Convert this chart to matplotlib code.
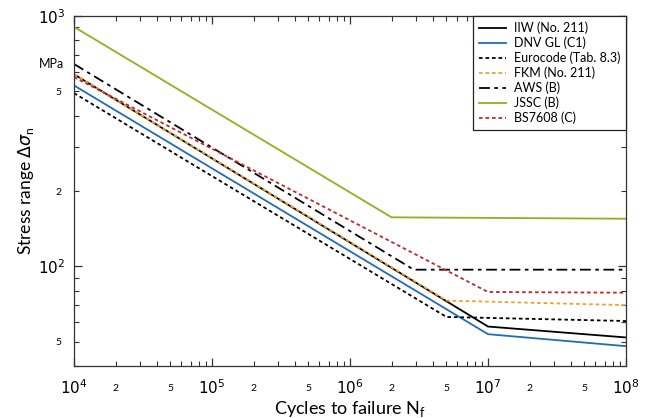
import matplotlib.pyplot as plt
from matplotlib.transforms import blended_transform_factory

plt.rcParams['font.family'] = ['Lato', 'DejaVu Sans']
plt.rcParams['mathtext.fontset'] = 'dejavusans'

# S-N curves: cycles (knee points) and stress range in MPa
iiw_n = [1e4, 1e7, 1e8]
iiw_s = [585, 57.5, 52]
dnv_n = [1e4, 1e7, 1e8]
dnv_s = [528, 53.6, 48]
ec_n = [1e4, 5e6, 1e8]
ec_s = [492, 62.8, 60.5]
fkm_n = [1e4, 5e6, 1e8]
fkm_s = [585, 73, 70]
aws_n = [1e4, 2.9e6, 1e8]
aws_s = [643, 97, 97]
jssc_n = [1e4, 2e6, 1e8]
jssc_s = [905, 157, 155]
bs_n = [1e4, 1e7, 1e8]
bs_s = [570, 79, 78.5]

x_major = [1e4, 1e5, 1e6, 1e7, 1e8]
x_major_labels = ['$10^{4}$', '$10^{5}$', '$10^{6}$', '$10^{7}$', '$10^{8}$']
y_major = [100, 1000]
y_major_labels = ['$10^{2}$', '$10^{3}$']


def minor_ticks(decades, shown, lo, hi):
    pos, lab = [], []
    for d in decades:
        for k in range(2, 10):
            p = k * 10.0 ** d
            if lo <= p <= hi:
                pos.append(p)
                lab.append(str(k) if k in shown else '')
    return pos, lab


fig = plt.figure(figsize=(6.45, 4.18), dpi=100)
ax = fig.add_axes([74 / 645, 1 - 366 / 418, 552 / 645, 350 / 418])

lw = 1.3
ax.plot(iiw_n, iiw_s, color='black', lw=lw, label='IIW (No. 211)')
ax.plot(dnv_n, dnv_s, color='#1f6db5', lw=lw, label='DNV GL (C1)')
ax.plot(ec_n, ec_s, color='black', lw=lw, dashes=(2, 1.6), label='Eurocode (Tab. 8.3)')
ax.plot(fkm_n, fkm_s, color='#f0a030', lw=lw, dashes=(2, 1.6), label='FKM (No. 211)')
ax.plot(aws_n, aws_s, color='black', lw=lw, dashes=(6, 2.5, 2, 2.5), label='AWS (B)')
ax.plot(jssc_n, jssc_s, color='#8fb020', lw=lw, label='JSSC (B)')
ax.plot(bs_n, bs_s, color='#c0282d', lw=lw, dashes=(2, 1.6), label='BS7608 (C)')

ax.set_xscale('log')
ax.set_yscale('log')
ax.set_xlim(1e4, 1e8)
ax.set_ylim(40, 1000)

xm, xl = minor_ticks(range(4, 8), (2, 5), 1e4, 1e8)
ym, yl = minor_ticks(range(1, 3), (2, 5), 40, 1000)

ax.set_xticks(x_major, x_major_labels)
ax.set_xticks(xm, xl, minor=True)
ax.set_yticks(y_major, y_major_labels)
ax.set_yticks(ym, yl, minor=True)

ax.tick_params(which='both', direction='in', top=True, right=True, color='#333333')
ax.tick_params(which='major', length=6, width=0.9, labelsize=11)
ax.tick_params(which='minor', length=3.5, width=0.8, labelsize=7.5)
ax.tick_params(axis='x', which='major', pad=9)
ax.tick_params(axis='x', which='minor', pad=13)
ax.tick_params(axis='y', which='major', pad=6)
ax.tick_params(axis='y', which='minor', pad=9)
for s in ax.spines.values():
    s.set_color('#333333')
    s.set_linewidth(0.9)

trans = blended_transform_factory(ax.transAxes, ax.transData)
ax.text(-0.018, 645, 'MPa', transform=trans, ha='right', va='center', fontsize=9)

ax.set_xlabel('Cycles to failure N$_\\mathregular{f}$', fontsize=13)
ax.set_ylabel('Stress range $\\Delta\\sigma_\\mathregular{n}$', fontsize=12.5)
ax.xaxis.set_label_coords(0.5, -0.093)
ax.yaxis.set_label_coords(-0.068, 0.5)

leg = ax.legend(loc='upper right', borderaxespad=0, fontsize=9, handlelength=2.2,
                labelspacing=0.2, borderpad=0.45, handletextpad=0.6, fancybox=False)
leg.get_frame().set_edgecolor('#222222')
leg.get_frame().set_linewidth(0.9)
leg.get_frame().set_alpha(1)

fig.savefig('out.png', dpi=100)
